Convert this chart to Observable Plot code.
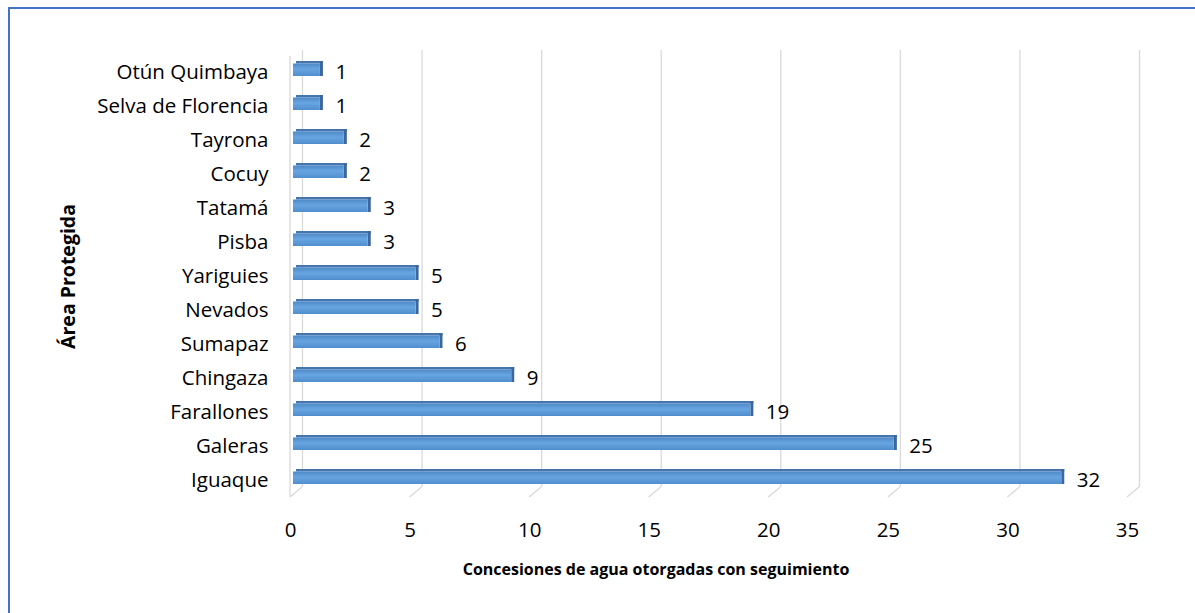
<!DOCTYPE html>
<html><head><meta charset="utf-8">
<script src="https://cdn.jsdelivr.net/npm/d3@7"></script>
<script src="https://cdn.jsdelivr.net/npm/@observablehq/plot@0.6"></script>
<style>
body{margin:0;background:#fff;}
#wrap{position:relative;width:1195px;height:613px;overflow:hidden;}
#wrap svg{position:absolute;left:0;top:0;}
#border{position:absolute;left:8px;top:7px;width:1220px;height:640px;border:2px solid #4472c4;pointer-events:none;}
</style></head><body><div id="wrap"><div id="border"></div></div>
<script>
const categories = ["Otún Quimbaya","Selva de Florencia","Tayrona","Cocuy","Tatamá","Pisba","Yariguies","Nevados","Sumapaz","Chingaza","Farallones","Galeras","Iguaque"];
const values = [1,1,2,2,3,3,5,5,6,9,19,25,32];
const xTicks = [0,5,10,15,20,25,30,35];
const xTitle = "Concesiones de agua otorgadas con seguimiento";
const yTitle = "Área Protegida";

const data = categories.map((c, i) => ({area: c, value: values[i]}));
const font = "'Open Sans', Lato, sans-serif";

const chart = Plot.plot({
  width: 1195,
  height: 613,
  marginLeft: 290,
  marginRight: 68,
  marginTop: 51,
  marginBottom: 112,
  style: {fontFamily: font, fontSize: "20.5px", color: "#000", background: "transparent"},
  x: {domain: [0, 35], ticks: xTicks, tickSize: 0, tickPadding: 21, label: null},
  y: {domain: categories, padding: 0, tickSize: 0, tickPadding: 22, label: null},
  marks: [
    Plot.ruleX(xTicks, {x: d => d, dx: 12, insetTop: -1, insetBottom: 14, stroke: "#d9d9d9", strokeWidth: 1.3}),
    // top face
    Plot.barX(data, {y: "area", x1: 0, x2: "value", dx: 9, insetLeft: -3, insetTop: 6, insetBottom: 25.5, fill: "#4575ae"}),
    // side face
    Plot.barX(data, {y: "area", x1: "value", x2: "value", dx: 6, insetRight: -3, insetTop: 6, insetBottom: 13, fill: "#3b669e"}),
    // front face
    Plot.barX(data, {y: "area", x1: 0, x2: "value", dx: 6, insetLeft: -3, insetTop: 8.5, insetBottom: 13, fill: "url(#barGrad)"}),
    Plot.text(data, {y: "area", x: "value", text: d => String(d.value), textAnchor: "start", dx: 21, dy: 0, fontSize: 20.5, fill: "#000"}),
    Plot.text([xTitle], {frameAnchor: "bottom", textAnchor: "middle", lineAnchor: "middle", dx: -53, dy: 68, fontWeight: "bold", fontSize: 16, fill: "#000"}),
    Plot.text([yTitle], {frameAnchor: "left", textAnchor: "middle", lineAnchor: "middle", dx: -222, dy: 0, rotate: -90, fontWeight: "bold", fontSize: 19.5, fill: "#000"})
  ]
});

// gradient for bar front faces
const svg = d3.select(chart);
const defs = svg.insert("defs", ":first-child");
const g = defs.append("linearGradient").attr("id", "barGrad").attr("x1", 0).attr("y1", 0).attr("x2", 0).attr("y2", 1);
g.append("stop").attr("offset", "0%").attr("stop-color", "#4f89c9");
g.append("stop").attr("offset", "45%").attr("stop-color", "#67a5e0");
g.append("stop").attr("offset", "100%").attr("stop-color", "#508dce");

// 3D floor slants of the gridlines and the left wall front edge, positioned with the x scale
const xs = chart.scale("x");
const deco = svg.insert("g", "g[aria-label='bar']").attr("stroke", "#d9d9d9").attr("stroke-width", 1.3).attr("fill", "none");
xTicks.forEach(t => {
  const px = xs.apply(t);
  deco.append("line").attr("x1", px + 12).attr("y1", 487).attr("x2", px).attr("y2", 497);
});
deco.append("line").attr("x1", xs.apply(0)).attr("y1", 56).attr("x2", xs.apply(0)).attr("y2", 497);

document.getElementById("wrap").appendChild(chart);
</script>
</body></html>
